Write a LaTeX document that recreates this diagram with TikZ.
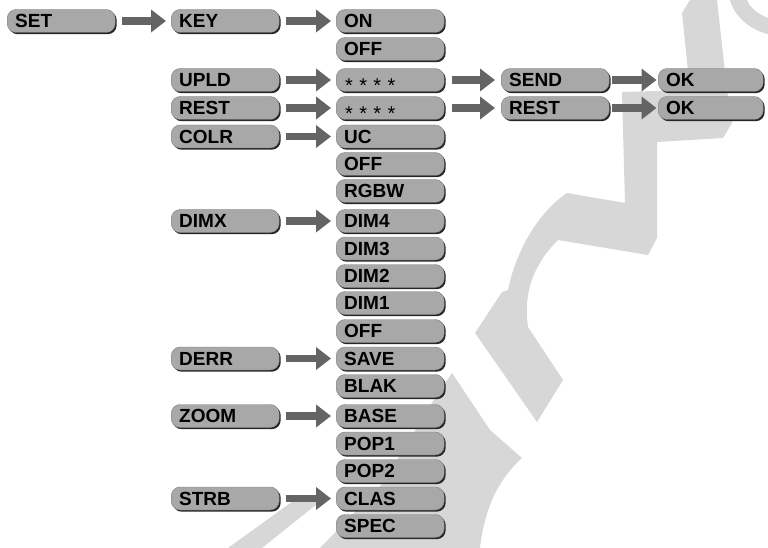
\documentclass[tikz,border=0pt]{standalone}
\usepackage{fontspec}
\setmainfont{Liberation Sans}
\usetikzlibrary{shadows,arrows.meta}
\definecolor{boxfill}{RGB}{168,168,168}
\definecolor{boxedge}{RGB}{125,125,125}
\definecolor{arrowfill}{RGB}{100,100,100}
\definecolor{wm}{RGB}{215,215,215}
\begin{document}
\begin{tikzpicture}[x=1pt,y=-1pt,
  mbox/.style={rectangle, rounded corners=9pt, fill=boxfill, draw=boxedge, line width=0.4pt,
    general shadow={shadow xshift=1.5pt, shadow yshift=-1.7pt, fill=black!85},
    minimum height=23pt, text width=92pt, inner xsep=8pt, inner ysep=0pt, align=left,
    text height=13.6pt, text depth=0pt, font=\fontsize{19}{21}\selectfont\bfseries, anchor=west},
  okbox/.style={mbox, text width=89pt},
  marrow/.style={line width=7.5pt, draw=arrowfill, -{Triangle[length=15pt,width=22pt]}, shorten <=7pt, shorten >=5pt}
]
\useasboundingbox (0,0) rectangle (768,548);
% watermark
\fill[wm] (730,0) .. controls (734,16) and (750,30) .. (768,34) -- (768,18) .. controls (758,14) and (750,8) .. (747,0) -- cycle;
\fill[wm] (690,0) -- (717,0) -- (727,90) -- (732,123) -- (723,138) -- (657,142) -- (657,238) -- (648,255) -- (558,240)
  .. controls (540,258) and (522,285) .. (528,327) -- (563,380) -- (537,422) -- (475,333) -- (502,292) -- (508,290)
  .. controls (515,255) and (535,215) .. (567,193) -- (625,203) -- (622,92) -- (690,90) -- (682,13) -- cycle;
\fill[wm] (452,373) -- (490,430) -- (522,458) .. controls (500,478) and (485,505) .. (480,548) -- (320,548) -- (383,483) -- (440,390) -- cycle;
\fill[wm] (228,548) -- (262,548) -- (322,500) -- (300,496) -- cycle;
% column 1
\node[mbox] (set) at (7,21) {SET};
% column 2
\node[mbox] (key) at (171,21) {KEY};
\node[mbox] (upld) at (171,80) {UPLD};
\node[mbox] (rest) at (171,108) {REST};
\node[mbox] (colr) at (171,136.5) {COLR};
\node[mbox] (dimx) at (171,221) {DIMX};
\node[mbox] (derr) at (171,358.5) {DERR};
\node[mbox] (zoom) at (171,416) {ZOOM};
\node[mbox] (strb) at (171,498.5) {STRB};
% column 3
\node[mbox] (on) at (336,21) {ON};
\node[mbox] (keyoff) at (336,49) {OFF};
\node[mbox] (pw1) at (336,80) {\hspace*{1pt}\raisebox{-6pt}{\mdseries\fontsize{20}{22}\selectfont * * * *}};
\node[mbox] (pw2) at (336,108) {\hspace*{1pt}\raisebox{-6pt}{\mdseries\fontsize{20}{22}\selectfont * * * *}};
\node[mbox] (uc) at (336,136.5) {UC};
\node[mbox] (coloff) at (336,164) {OFF};
\node[mbox] (rgbw) at (336,191) {RGBW};
\node[mbox] (dim4) at (336,221) {DIM4};
\node[mbox] (dim3) at (336,248.5) {DIM3};
\node[mbox] (dim2) at (336,276) {DIM2};
\node[mbox] (dim1) at (336,303) {DIM1};
\node[mbox] (dimoff) at (336,331) {OFF};
\node[mbox] (save) at (336,358.5) {SAVE};
\node[mbox] (blak) at (336,386) {BLAK};
\node[mbox] (base) at (336,416) {BASE};
\node[mbox] (pop1) at (336,443.5) {POP1};
\node[mbox] (pop2) at (336,471) {POP2};
\node[mbox] (clas) at (336,498.5) {CLAS};
\node[mbox] (spec) at (336,526) {SPEC};
% column 4
\node[mbox] (send) at (501,80) {SEND};
\node[mbox] (rest2) at (501,108) {REST};
% column 5
\node[okbox] (ok1) at (658,80) {OK};
\node[okbox] (ok2) at (658,108) {OK};
% arrows
\draw[marrow] (set.east) -- (key.west);
\draw[marrow] (key.east) -- (on.west);
\draw[marrow] (upld.east) -- (pw1.west);
\draw[marrow] (rest.east) -- (pw2.west);
\draw[marrow] (colr.east) -- (uc.west);
\draw[marrow] (dimx.east) -- (dim4.west);
\draw[marrow] (derr.east) -- (save.west);
\draw[marrow] (zoom.east) -- (base.west);
\draw[marrow] (strb.east) -- (clas.west);
\draw[marrow, shorten <=8pt, shorten >=6pt] (pw1.east) -- (send.west);
\draw[marrow, shorten <=8pt, shorten >=6pt] (pw2.east) -- (rest2.west);
\draw[marrow, shorten <=3pt, shorten >=1.5pt] (send.east) -- (ok1.west);
\draw[marrow, shorten <=3pt, shorten >=1.5pt] (rest2.east) -- (ok2.west);
\end{tikzpicture}
\end{document}
